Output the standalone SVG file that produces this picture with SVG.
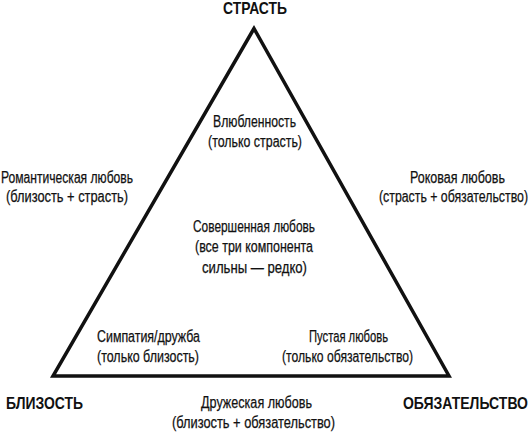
<svg xmlns="http://www.w3.org/2000/svg" width="531" height="435" viewBox="0 0 531 435">
<style>
text{font-family:"Liberation Sans","DejaVu Sans",sans-serif;fill:#111}
.l{font-size:16px;stroke:#111;stroke-width:0.25}
.b{font-size:17px;font-weight:bold}
.e{text-anchor:end}
.tri{fill:none;stroke:#111;stroke-width:3.5;stroke-linejoin:miter;stroke-miterlimit:10}
</style>
<rect width="531" height="435" fill="#fff"/>
<g id="connectors">
<path class="tri" d="M254,28.5 L53,376 L449,376 Z"/>
</g>
<g id="passion"><text class="b" x="223" y="14" textLength="64" lengthAdjust="spacingAndGlyphs">СТРАСТЬ</text></g>
<g id="intimacy"><text class="b" x="6" y="409" textLength="77" lengthAdjust="spacingAndGlyphs">БЛИЗОСТЬ</text></g>
<g id="commitment"><text class="b e" x="528" y="409" textLength="125" lengthAdjust="spacingAndGlyphs">ОБЯЗАТЕЛЬСТВО</text></g>
<g id="infatuation">
<text class="l" x="213" y="127" textLength="83" lengthAdjust="spacingAndGlyphs">Влюбленность</text>
<text class="l" x="208" y="147" textLength="94" lengthAdjust="spacingAndGlyphs">(только страсть)</text>
</g>
<g id="romantic">
<text class="l" x="1" y="183" textLength="132" lengthAdjust="spacingAndGlyphs">Романтическая любовь</text>
<text class="l" x="6" y="202" textLength="122" lengthAdjust="spacingAndGlyphs">(близость + страсть)</text>
</g>
<g id="fatuous">
<text class="l" x="410" y="183" textLength="95" lengthAdjust="spacingAndGlyphs">Роковая любовь</text>
<text class="l e" x="528" y="202" textLength="149" lengthAdjust="spacingAndGlyphs">(страсть + обязательство)</text>
</g>
<g id="consummate">
<text class="l" x="193" y="232" textLength="122" lengthAdjust="spacingAndGlyphs">Совершенная любовь</text>
<text class="l" x="195" y="252" textLength="118" lengthAdjust="spacingAndGlyphs">(все три компонента</text>
<text class="l" x="202" y="273" textLength="105" lengthAdjust="spacingAndGlyphs">сильны — редко)</text>
</g>
<g id="liking">
<text class="l" x="97" y="342" textLength="103" lengthAdjust="spacingAndGlyphs">Симпатия/дружба</text>
<text class="l" x="97" y="362" textLength="102" lengthAdjust="spacingAndGlyphs">(только близость)</text>
</g>
<g id="empty">
<text class="l" x="309" y="342" textLength="79" lengthAdjust="spacingAndGlyphs">Пустая любовь</text>
<text class="l" x="282" y="362" textLength="131" lengthAdjust="spacingAndGlyphs">(только обязательство)</text>
</g>
<g id="companionate">
<text class="l" x="201" y="408" textLength="111" lengthAdjust="spacingAndGlyphs">Дружеская любовь</text>
<text class="l" x="172" y="428" textLength="163" lengthAdjust="spacingAndGlyphs">(близость + обязательство)</text>
</g>
</svg>
